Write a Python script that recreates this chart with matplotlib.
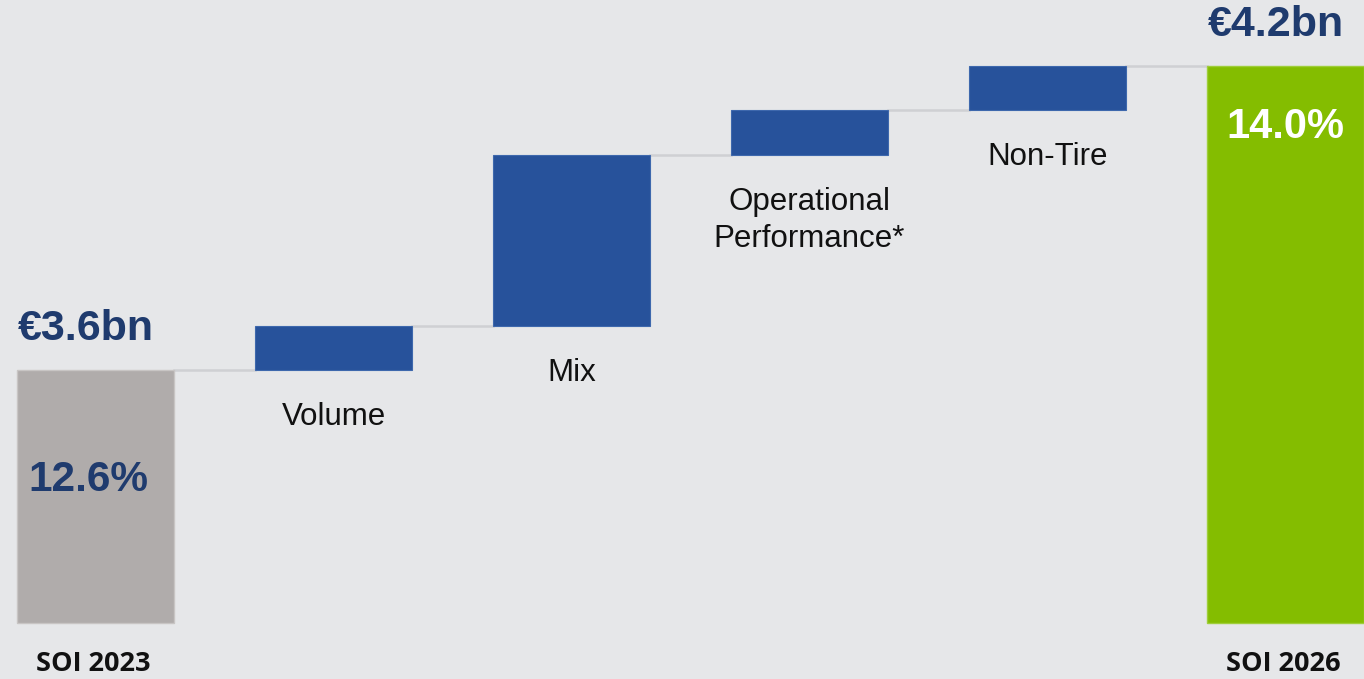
import numpy as np
import matplotlib.pyplot as plt

# data (EUR bn)
start_label = "SOI 2023"
end_label = "SOI 2026"
start_val = 3.6
steps = ["Volume", "Mix", "Operational\nPerformance*", "Non-Tire"]
deltas = [0.087, 0.337, 0.089, 0.087]
start_margin = "12.6%"
end_margin = "14.0%"
base = 3.1

bg = "#e6e7e9"
navy = "#1f3b6e"
blue = "#27529b"
grey = "#b0acab"
green = "#84bd00"

plt.rcParams['font.family'] = ['Liberation Sans', 'DejaVu Sans']

fig = plt.figure(figsize=(13.64, 6.79), dpi=100, facecolor=bg)
ax = fig.add_axes([0, 0, 1, 1])
ax.set_facecolor(bg)

w = 0.66
n = len(steps) + 2
x = np.arange(n)
end_val = start_val + sum(deltas)

# start / end bars
ax.bar(x[0], start_val - base, bottom=base, width=w, color=grey, edgecolor="#c8c5c4", lw=1)
ax.bar(x[-1], end_val - base, bottom=base, width=w, color=green, edgecolor="#9fce3a", lw=1)

# steps
level = start_val
tops = [start_val]
for i, d in enumerate(deltas):
    ax.bar(x[i + 1], d, bottom=level, width=w, color=blue, edgecolor="#3e68ad", lw=0.8)
    ax.annotate(steps[i], (x[i + 1], level), xytext=(0, -23), textcoords="offset points",
                ha="center", va="top", fontsize=22.5, color="#111111", linespacing=1.3)
    level += d
    tops.append(level)

# connectors
for i in range(n - 1):
    ax.plot([x[i] + w / 2, x[i + 1] - w / 2], [tops[i], tops[i]], color="#cfd0d3", lw=1.8, zorder=0)

# value labels
ax.annotate(f"€{start_val:.1f}bn", (x[0] - 0.04, start_val), xytext=(0, 15), textcoords="offset points",
            ha="center", va="bottom", fontsize=31, fontweight="bold", color=navy)
ax.annotate(f"€{end_val:.1f}bn", (x[-1] - 0.04, end_val), xytext=(0, 15), textcoords="offset points",
            ha="center", va="bottom", fontsize=31, fontweight="bold", color=navy)
ax.text(x[0] - 0.03, 3.383, start_margin, ha="center", va="center", fontsize=30.5,
        fontweight="bold", color=navy)
ax.text(x[-1], 4.080, end_margin, ha="center", va="center", fontsize=30,
        fontweight="bold", color="white")

# category labels at bottom
for xi, lab in [(x[0], start_label), (x[-1], end_label)]:
    ax.text(xi - 0.01, 3.019, lab, ha="center", va="center", fontsize=19.5, fontweight="bold",
            color="#111111", family=["Open Sans", "DejaVu Sans"])

ax.set_xlim(-0.4013, 5.33)
ax.set_ylim(2.990, 4.330)
ax.axis("off")

fig.savefig("out.png", dpi=100, facecolor=bg)
